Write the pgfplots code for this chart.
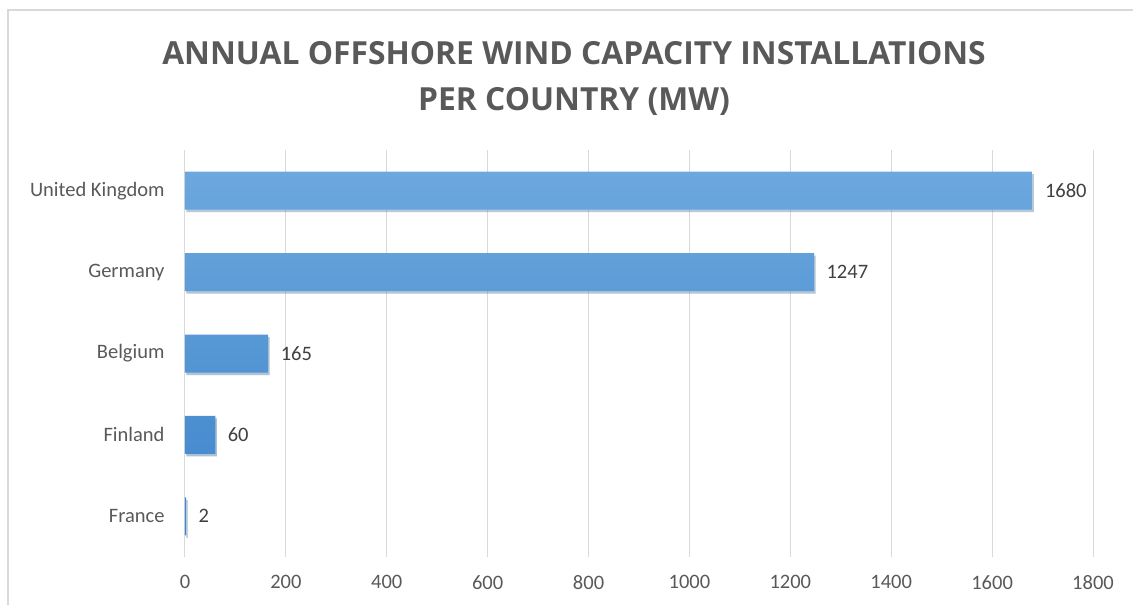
\documentclass[border=0pt]{standalone}
\usepackage{fontspec}
\setmainfont{Carlito}
\newfontfamily\titlefont{Open Sans}
\usepackage{pgfplots}
\pgfplotsset{compat=1.18}
\usetikzlibrary{shadows}
\definecolor{barTop}{HTML}{6CA8DE}
\definecolor{barBot}{HTML}{3E84CB}
\definecolor{gridc}{HTML}{D9D9D9}
\definecolor{titlec}{HTML}{595959}
\definecolor{tickc}{HTML}{595959}
\definecolor{labc}{HTML}{404040}
\begin{document}
\begin{tikzpicture}[x=1pt,y=1pt]
\useasboundingbox (0,0) rectangle (1133,605);
\draw[color=gridc, line width=1.5pt] (8,-2) -- (8,595) -- (1140,595);
\node[font=\titlefont\bfseries\fontsize{31.8}{46}\selectfont, text=titlec, align=center] at (574,527) {ANNUAL OFFSHORE WIND CAPACITY INSTALLATIONS\\PER COUNTRY (MW)};
\begin{axis}[
  at={(185pt,48pt)}, anchor=south west,
  width=908pt, height=407pt, scale only axis,
  xmin=0, xmax=1800, ymin=-0.5, ymax=4.5, y dir=reverse,
  xbar, bar width=38pt,
  ytick={0,1,2,3,4},
  yticklabels={United Kingdom,Germany,Belgium,Finland,France},
  xtick={0,200,...,1800},
  xmajorgrids, grid style={draw=gridc, line width=1pt},
  axis line style={draw=none},
  major tick length=0pt,
  tick label style={font=\fontsize{20.5}{24}\selectfont, text=tickc},
  yticklabel style={xshift=-17pt},
  xticklabel style={yshift=-15pt},
  /pgf/number format/.cd, 1000 sep={}, assume math mode=true, /pgfplots/.cd,
  nodes near coords,
  nodes near coords style={font=\fontsize{20.5}{24}\selectfont, text=labc, anchor=west, xshift=9pt},
  clip=false,
]
\addplot[draw=none, top color=barTop, bottom color=barBot,
  drop shadow={shadow xshift=1.5pt, shadow yshift=-2.5pt, opacity=0.3, fill=black!50}]
  coordinates {(1680,0) (1247,1) (165,2) (60,3) (2,4)};
\end{axis}
\end{tikzpicture}
\end{document}
